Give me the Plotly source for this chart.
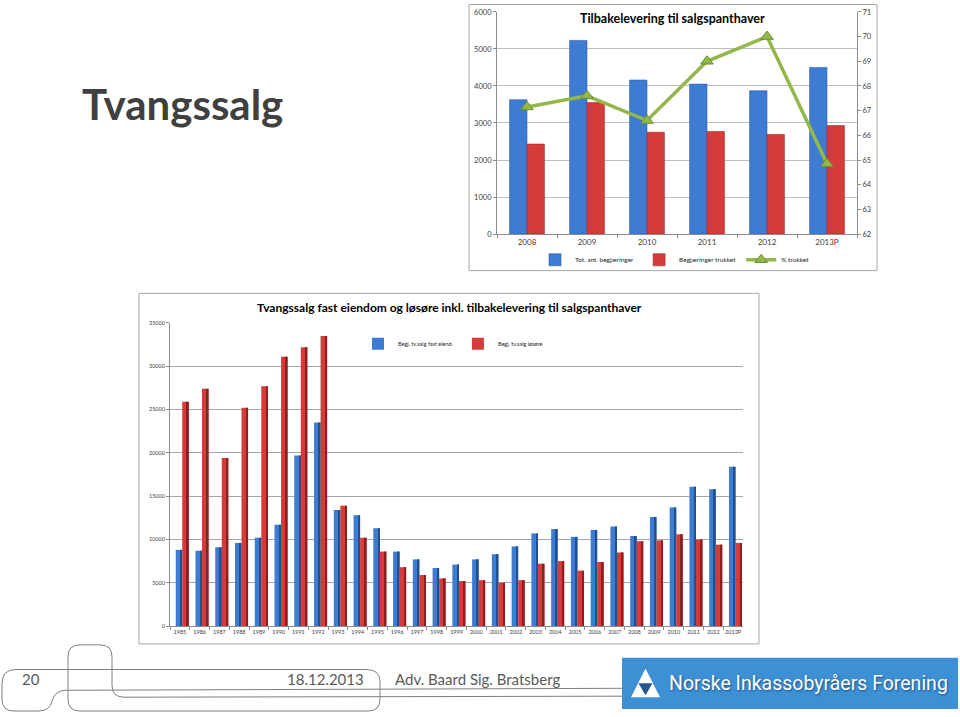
import plotly.graph_objects as go

W, H = 960, 717

# --- chart 1: Tilbakelevering til salgspanthaver ---
aar1 = ['2008', '2009', '2010', '2011', '2012', '2013P']
tot_begj = [3630, 5230, 4160, 4050, 3870, 4500]
begj_trukket = [2430, 3550, 2750, 2770, 2690, 2930]
pct_trukket = [67.15, 67.6, 66.6, 69.0, 70.0, 64.85]

# --- chart 2: Tvangssalg fast eiendom og løsøre ---
aar2 = ['1985', '1986', '1987', '1988', '1989', '1990', '1991', '1992', '1993', '1994',
        '1995', '1996', '1997', '1998', '1999', '2000', '2001', '2002', '2003', '2004',
        '2005', '2006', '2007', '2008', '2009', '2010', '2011', '2012', '2012P']
fast_eiend = [8800, 8700, 9100, 9600, 10200, 11700, 19700, 23500, 13400, 12800,
              11300, 8600, 7700, 6700, 7100, 7700, 8300, 9200, 10700, 11200,
              10300, 11100, 11500, 10400, 12600, 13700, 16100, 15800, 18400]
losore = [25900, 27400, 19400, 25200, 27700, 31100, 32200, 33500, 13900, 10200,
          8600, 6800, 5900, 5500, 5200, 5300, 5000, 5300, 7200, 7500,
          6400, 7400, 8500, 9800, 9900, 10600, 10000, 9400, 9600]


def px(x):
    return x / W


def py(y):
    return 1 - y / H


def path_px(d):
    # svg path in slide pixels -> paper coords
    out, nums = [], []
    for t in d.replace(',', ' ').split():
        if t.isalpha():
            out.append(t)
        else:
            nums.append(float(t))
            if len(nums) == 2:
                out.append(f'{px(nums[0]):.5f},{py(nums[1]):.5f}')
                nums = []
    return ' '.join(out)


FONT = 'Lato, Carlito, Calibri, sans-serif'
BLUE, BLUE_D = '#3e7bd3', '#21508f'
RED, RED_D = '#d63b3b', '#8e1f1f'
GREEN = '#93b84a'

fig = go.Figure()

# chart 1
fig.add_trace(go.Bar(
    x=aar1, y=tot_begj, name='Tot. ant. begjæringer',
    width=0.29, offset=-0.29, marker=dict(color=BLUE, line=dict(color='#2d5fa8', width=0.6)),
    xaxis='x', yaxis='y', legend='legend'
))
fig.add_trace(go.Bar(
    x=aar1, y=begj_trukket, name='Begjæringer trukket',
    width=0.29, offset=0, marker=dict(color=RED, line=dict(color='#a52828', width=0.6)),
    xaxis='x', yaxis='y', legend='legend'
))
fig.add_trace(go.Scatter(
    x=aar1, y=pct_trukket, name='% trukket', mode='lines+markers',
    line=dict(color=GREEN, width=3.5),
    marker=dict(symbol='triangle-up', size=11, color=GREEN, line=dict(color='#6f8f2f', width=1)),
    xaxis='x', yaxis='y2', legend='legend'
))

# chart 2 (front face + darker side to mimic 3d columns)
fig.add_trace(go.Bar(
    x=aar2, y=fast_eiend, name='Begj. tv.salg fast eiend.',
    width=0.33, offset=-0.21, marker=dict(color=BLUE, line=dict(width=0)),
    xaxis='x2', yaxis='y3', legend='legend2'
))
fig.add_trace(go.Bar(
    x=aar2, y=fast_eiend, showlegend=False, hoverinfo='skip',
    width=0.09, offset=0.03, marker=dict(color=BLUE_D, line=dict(width=0)),
    xaxis='x2', yaxis='y3'
))
fig.add_trace(go.Bar(
    x=aar2, y=losore, name='Begj. tv.salg løsøre',
    width=0.33, offset=0.12, marker=dict(color=RED, line=dict(width=0)),
    xaxis='x2', yaxis='y3', legend='legend2'
))
fig.add_trace(go.Bar(
    x=aar2, y=losore, showlegend=False, hoverinfo='skip',
    width=0.09, offset=0.36, marker=dict(color=RED_D, line=dict(width=0)),
    xaxis='x2', yaxis='y3'
))

ax_common = dict(linecolor='#8c8c8c', linewidth=1, showline=True, ticks='outside',
                 tickcolor='#8c8c8c', ticklen=3, zeroline=False, tickangle=0)


def tf(size):
    return dict(family=FONT, size=size, color='#404040')


shapes = [
    # chart boxes
    dict(type='rect', xref='paper', yref='paper', x0=px(469), x1=px(877), y0=py(270), y1=py(0.5),
         line=dict(color='#a6a6a6', width=1), layer='below'),
    dict(type='rect', xref='paper', yref='paper', x0=px(139), x1=px(759), y0=py(648), y1=py(293),
         line=dict(color='#a6a6a6', width=1), layer='below'),
    # footer outlines
    dict(type='path', xref='paper', yref='paper', line=dict(color='#7f7f7f', width=1),
         path=path_px('M 380 686 Q 380 674 366 674 L 16 674 Q 2 674 2 688 L 2 704 Q 2 716 14 716 '
                      'L 38 716 Q 50 716 52 706 Q 55 695 66 695 L 622 693')),
    dict(type='path', xref='paper', yref='paper', line=dict(color='#7f7f7f', width=1),
         path=path_px('M 380 686 L 380 704 Q 380 716 368 716 L 80 716 Q 68 716 68 704 L 68 661 '
                      'Q 68 649 80 649 L 100 649 Q 112 649 112 661 L 112 690 Q 112 702 124 702 L 622 701')),
    # logo
    dict(type='rect', xref='paper', yref='paper', x0=px(622), x1=px(958), y0=py(714), y1=py(662),
         fillcolor='#3d90d4', line=dict(color='#3d90d4', width=0)),
    dict(type='path', xref='paper', yref='paper', fillcolor='white', line=dict(width=0),
         path=path_px('M 631 702 L 660 702 L 645.5 673 Z')),
    dict(type='path', xref='paper', yref='paper', fillcolor='#24588c', line=dict(width=0),
         path=path_px('M 638.5 688 L 652.5 688 L 645.5 700 Z')),
]

annotations = [
    dict(text='<b>Tvangssalg</b>', x=px(80), y=py(101), xanchor='left', yanchor='middle',
         font=dict(family=FONT, size=42, color='#404040')),
    dict(text='<b>Tilbakelevering til salgspanthaver</b>', x=px(672), y=py(15), xanchor='center',
         yanchor='middle', font=dict(family=FONT, size=12.5, color='black')),
    dict(text='<b>Tvangssalg fast eiendom og løsøre inkl. tilbakelevering til salgspanthaver</b>',
         x=px(449), y=py(307), xanchor='center', yanchor='middle',
         font=dict(family=FONT, size=12, color='black')),
    dict(text='20', x=px(20), y=py(684), xanchor='left', yanchor='middle',
         font=dict(family=FONT, size=15, color='#595959')),
    dict(text='18.12.2013', x=px(366), y=py(684), xanchor='right', yanchor='middle',
         font=dict(family=FONT, size=15, color='#595959')),
    dict(text='Adv. Baard Sig. Bratsberg', x=px(393), y=py(684), xanchor='left', yanchor='middle',
         font=dict(family=FONT, size=15, color='#595959')),
    dict(text='Norske Inkassobyråers Forening', x=px(667), y=py(688), xanchor='left', yanchor='middle',
         font=dict(family='Roboto, sans-serif', size=19.5, color='white',
                   shadow='1px 1px 2px #1d4f80')),
]
for a in annotations:
    a.update(xref='paper', yref='paper', showarrow=False)

fig.update_layout(
    width=W, height=H,
    margin=dict(l=0, r=0, t=0, b=0),
    paper_bgcolor='white', plot_bgcolor='rgba(0,0,0,0)',
    barmode='overlay',
    xaxis=dict(domain=[px(497), px(857)], anchor='y', type='category', tickson='boundaries',
               tickfont=tf(8), **ax_common),
    yaxis=dict(domain=[py(233), py(8)], anchor='x', range=[0, 6000], dtick=1000, tickformat='d',
               showgrid=True, gridcolor='#bfbfbf', gridwidth=1, tickfont=tf(7.5), **ax_common),
    yaxis2=dict(overlaying='y', side='right', anchor='x', range=[62, 71], dtick=1, showgrid=False,
                tickfont=tf(7.5), **ax_common),
    xaxis2=dict(domain=[px(170), px(743)], anchor='y3', type='category', tickson='boundaries',
                tickfont=tf(5.5), **ax_common),
    yaxis3=dict(domain=[py(630), py(323)], anchor='x2', range=[0, 35000], dtick=5000, tickformat='d',
                showgrid=True, gridcolor='#a6a6a6', gridwidth=1, tickfont=tf(5.5), **ax_common),
    legend=dict(orientation='h', x=px(675), y=py(259), xanchor='center', yanchor='middle',
                font=dict(family=FONT, size=6.5, color='#262626'), bgcolor='rgba(0,0,0,0)',
                itemwidth=30, traceorder='normal'),
    legend2=dict(orientation='h', x=px(453), y=py(344), xanchor='center', yanchor='middle',
                 font=dict(family=FONT, size=5.5, color='#262626'), bgcolor='rgba(0,0,0,0)',
                 itemwidth=30, traceorder='normal'),
    shapes=shapes,
    annotations=annotations,
)

fig.write_html('out.html', config={'displayModeBar': False},
               post_script="document.body.style.margin='0';")
